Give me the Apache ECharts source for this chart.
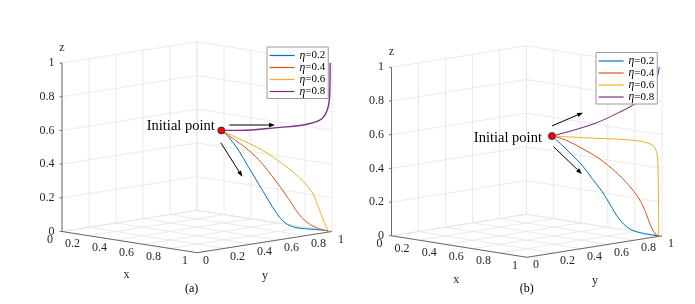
<!DOCTYPE html>
<html><head><meta charset="utf-8">
<script src="https://cdn.jsdelivr.net/npm/echarts@6/dist/echarts.min.js"></script>
<style>html,body{margin:0;padding:0;background:#fff}#c{width:695px;height:304px}</style>
</head><body><div id="c"></div><script>
// ---------- data ----------
const tickValues = [0, 0.2, 0.4, 0.6, 0.8, 1];
const tickLabels = ['0', '0.2', '0.4', '0.6', '0.8', '1'];
const seriesNames = ['η=0.2', 'η=0.4', 'η=0.6', 'η=0.8'];
const captions = ['(a)', '(b)'];
const initialA = [0.59, 0.59, 0.60];
const initialB = [0.593, 0.593, 0.592];
// panel (a): x = y along the trajectory, z
const aXY02 = [0.59, 0.616, 0.653, 0.690, 0.727, 0.764, 0.795, 0.826, 0.863, 0.912, 0.962, 0.986];
const aZ02  = [0.60, 0.563, 0.484, 0.385, 0.286, 0.187, 0.108, 0.052, 0.025, 0.015, 0.009, 0.003];
const aXY04 = [0.59, 0.641, 0.690, 0.740, 0.789, 0.838, 0.875, 0.912, 0.949, 0.986];
const aZ04  = [0.60, 0.543, 0.484, 0.405, 0.306, 0.197, 0.108, 0.049, 0.019, 0.003];
const aXY06 = [0.59, 0.666, 0.740, 0.814, 0.875, 0.925, 0.949, 0.968, 0.986];
const aZ06  = [0.60, 0.543, 0.484, 0.405, 0.325, 0.236, 0.147, 0.068, 0.003];
const aXY08 = [0.59, 0.659, 0.807, 0.894, 0.956, 0.980, 0.990, 0.993, 0.993];
const aZ08  = [0.60, 0.600, 0.618, 0.632, 0.662, 0.711, 0.780, 0.939, 1.000];
// panel (b)
const bXY02 = [0.593, 0.630, 0.667, 0.704, 0.741, 0.779, 0.809, 0.840, 0.877, 0.927, 0.988];
const bZ02  = [0.592, 0.539, 0.480, 0.420, 0.341, 0.262, 0.183, 0.104, 0.045, 0.015, 0.000];
const bXY04 = [0.593, 0.643, 0.704, 0.766, 0.828, 0.877, 0.914, 0.939, 0.957, 0.976, 0.988];
const bZ04  = [0.592, 0.569, 0.519, 0.460, 0.380, 0.301, 0.223, 0.143, 0.064, 0.009, 0.000];
const bXY06 = [0.593, 0.643, 0.754, 0.877, 0.939, 0.970, 0.982, 0.986, 0.987, 0.988];
const bZ06  = [0.592, 0.588, 0.579, 0.569, 0.555, 0.529, 0.480, 0.361, 0.180, 0.000];
const bXY08 = [0.593, 0.667, 0.754, 0.840, 0.901, 0.951, 0.982, 0.990];
const bZ08  = [0.592, 0.624, 0.668, 0.731, 0.786, 0.865, 0.944, 1.000];
// arrows (from xyz to xyz)
const arrowsA = [[0.62, 0.62, 0.632, 0.789, 0.789, 0.632], [0.588, 0.588, 0.527, 0.668, 0.668, 0.325]];
const arrowsB = [[0.593, 0.593, 0.652, 0.708, 0.708, 0.731], [0.599, 0.599, 0.529, 0.704, 0.704, 0.367]];

// ---------- layout / style ----------
const colors = ['#0072BD', '#D95319', '#EDB120', '#7E2F8E'];
const FONT = 'Liberation Serif';
const panelA = { ox: 62, oy: 231.5, ex: [135, 21.2], ey: [135, -21.2], ez: 168.5,
  initText: [-6.5, -4.5], caption: [191.7, 289], legend: [267, 47], widths: [1, 1, 1, 1.4] };
const panelB = { ox: 391.5, oy: 235.8, ex: [135.5, 21.5], ey: [135, -21.5], ez: 168.5,
  initText: [-10, 2.3], caption: [526.7, 289], legend: [596, 52.5], widths: [1, 1, 1, 1.1] };

function proj(P, x, y, z) {
  return [P.ox + x * P.ex[0] + y * P.ey[0], P.oy + x * P.ex[1] + y * P.ey[1] - z * P.ez];
}
function seg(P, a, b) { return proj(P, a[0], a[1], a[2]).concat(proj(P, b[0], b[1], b[2])); }

function segSeries(segs, color, width, z) {
  return { type: 'custom', coordinateSystem: 'cartesian2d', silent: true, z: z, clip: false,
    data: segs,
    renderItem: function (params, api) {
      const p1 = api.coord([api.value(0), api.value(1)]);
      const p2 = api.coord([api.value(2), api.value(3)]);
      return { type: 'line', shape: { x1: p1[0], y1: p1[1], x2: p2[0], y2: p2[1] },
        style: { stroke: color, lineWidth: width } };
    } };
}
function tickSeries(pts, dx, color) {
  return { type: 'custom', coordinateSystem: 'cartesian2d', silent: true, z: 4, clip: false,
    data: pts,
    renderItem: function (params, api) {
      const p = api.coord([api.value(0), api.value(1)]);
      return { type: 'line', shape: { x1: p[0] + dx, y1: p[1], x2: p[0], y2: p[1] },
        style: { stroke: color, lineWidth: 0.8 } };
    } };
}
function textSeries(items, z) {
  return { type: 'custom', coordinateSystem: 'cartesian2d', silent: true, z: z || 5, clip: false,
    data: items.map(function (it) { return it.pos; }),
    renderItem: function (params, api) {
      const it = items[params.dataIndex];
      const p = api.coord([api.value(0), api.value(1)]);
      return { type: 'text', x: p[0] + it.dx, y: p[1] + it.dy,
        style: { text: it.text, fontFamily: FONT, fontSize: it.size, fill: it.color,
          align: it.align, verticalAlign: 'middle' } };
    } };
}
function arrowSeries(segs) {
  return { type: 'custom', coordinateSystem: 'cartesian2d', silent: true, z: 6, clip: false,
    data: segs,
    renderItem: function (params, api) {
      const p1 = api.coord([api.value(0), api.value(1)]);
      const p2 = api.coord([api.value(2), api.value(3)]);
      const dx = p2[0] - p1[0], dy = p2[1] - p1[1];
      const len = Math.sqrt(dx * dx + dy * dy), ux = dx / len, uy = dy / len;
      const hl = 6, hw = 2.2;
      const bx = p2[0] - ux * hl, by = p2[1] - uy * hl;
      return { type: 'group', children: [
        { type: 'line', shape: { x1: p1[0], y1: p1[1], x2: bx, y2: by }, style: { stroke: '#000', lineWidth: 1 } },
        { type: 'polygon', shape: { points: [[p2[0], p2[1]], [bx - uy * hw, by + ux * hw], [bx + uy * hw, by - ux * hw]] },
          style: { fill: '#000' } }
      ] };
    } };
}

function buildPanel(P, curves, init, arrows, caption) {
  const out = [];
  const g = [];
  tickValues.forEach(function (v) {
    g.push(seg(P, [v, 0, 0], [v, 1, 0]));
    g.push(seg(P, [0, v, 0], [1, v, 0]));
    g.push(seg(P, [0, v, 0], [0, v, 1]));
    g.push(seg(P, [0, 0, v], [0, 1, v]));
    g.push(seg(P, [v, 1, 0], [v, 1, 1]));
    g.push(seg(P, [0, 1, v], [1, 1, v]));
  });
  out.push(segSeries(g, '#e4e4e4', 0.8, 1));
  out.push(segSeries([seg(P, [0, 0, 0], [1, 0, 0]), seg(P, [1, 0, 0], [1, 1, 0]), seg(P, [0, 0, 0], [0, 0, 1])], '#5a5a5a', 0.9, 3));
  out.push(tickSeries(tickValues.map(function (v) { return proj(P, 0, 0, v); }), -2.5, '#5a5a5a'));
  const labels = [];
  tickValues.forEach(function (v, i) {
    labels.push({ pos: proj(P, v, 0, 0), text: tickLabels[i], dx: -9, dy: 8.3, align: 'right', size: 12, color: '#262626' });
    labels.push({ pos: proj(P, 1, v, 0), text: tickLabels[i], dx: 6, dy: 8, align: 'left', size: 12, color: '#262626' });
    labels.push({ pos: proj(P, 0, 0, v), text: tickLabels[i], dx: -7.5, dy: 0, align: 'right', size: 12, color: '#262626' });
  });
  labels.push({ pos: proj(P, 0.5, 0, 0), text: 'x', dx: -3, dy: 33, align: 'center', size: 12, color: '#262626' });
  labels.push({ pos: proj(P, 1, 0.5, 0), text: 'y', dx: 0.5, dy: 34, align: 'center', size: 12, color: '#262626' });
  labels.push({ pos: proj(P, 0, 0, 1), text: 'z', dx: 0, dy: -15, align: 'center', size: 12, color: '#262626' });
  labels.push({ pos: [P.caption[0], P.caption[1]], text: caption, dx: 0, dy: 0, align: 'center', size: 12, color: '#000' });
  const ip = proj(P, init[0], init[1], init[2]);
  labels.push({ pos: ip, text: 'Initial point', dx: P.initText[0], dy: P.initText[1], align: 'right', size: 14.5, color: '#000' });
  out.push(textSeries(labels, 5));
  curves.forEach(function (c, k) {
    out.push({ type: 'line', name: seriesNames[k], z: 4, symbol: 'none', showSymbol: false, smooth: 0.35,
      clip: false, silent: true, animation: false,
      color: colors[k], lineStyle: { color: colors[k], width: P.widths[k] },
      data: c[0].map(function (t, i) { return proj(P, t, t, c[1][i]); }) });
  });
  out.push(arrowSeries(arrows.map(function (a) { return seg(P, [a[0], a[1], a[2]], [a[3], a[4], a[5]]); })));
  out.push({ type: 'scatter', z: 8, silent: true, symbolSize: 7, data: [ip],
    itemStyle: { color: '#ff0000', borderColor: '#202060', borderWidth: 0.8, opacity: 1 } });
  return out;
}

const series = [].concat(
  buildPanel(panelA, [[aXY02, aZ02], [aXY04, aZ04], [aXY06, aZ06], [aXY08, aZ08]], initialA, arrowsA, captions[0]),
  buildPanel(panelB, [[bXY02, bZ02], [bXY04, bZ04], [bXY06, bZ06], [bXY08, bZ08]], initialB, arrowsB, captions[1])
);

function legendFor(P) {
  return { data: seriesNames, orient: 'vertical', left: P.legend[0], top: P.legend[1],
    itemWidth: 25, itemHeight: 11.7, itemGap: 0, itemTextGap: 2, padding: [2.5, 3, 1, 2],
    backgroundColor: '#fff', borderColor: '#9a9a9a', borderWidth: 1, borderRadius: 0,
    selectedMode: false, z: 20,
    itemStyle: { opacity: 0, borderWidth: 0 },
    lineStyle: { width: 1.2 },
    formatter: function (name) { return '{i|η}{n|=' + name.split('=')[1] + '}'; },
    textStyle: { fontFamily: FONT, fontSize: 11, color: '#000', lineHeight: 11.7,
      rich: { i: { fontFamily: FONT, fontStyle: 'italic', fontSize: 11.5, color: '#000' },
              n: { fontFamily: FONT, fontSize: 11, color: '#000' } } } };
}

const chart = echarts.init(document.getElementById('c'), null, { renderer: 'canvas' });
chart.setOption({
  animation: false,
  backgroundColor: '#fff',
  grid: { left: 0, right: 0, top: 0, bottom: 0 },
  xAxis: { type: 'value', min: 0, max: 695, show: false },
  yAxis: { type: 'value', min: 0, max: 304, inverse: true, show: false },
  legend: [legendFor(panelA), legendFor(panelB)],
  series: series
});
</script></body></html>
